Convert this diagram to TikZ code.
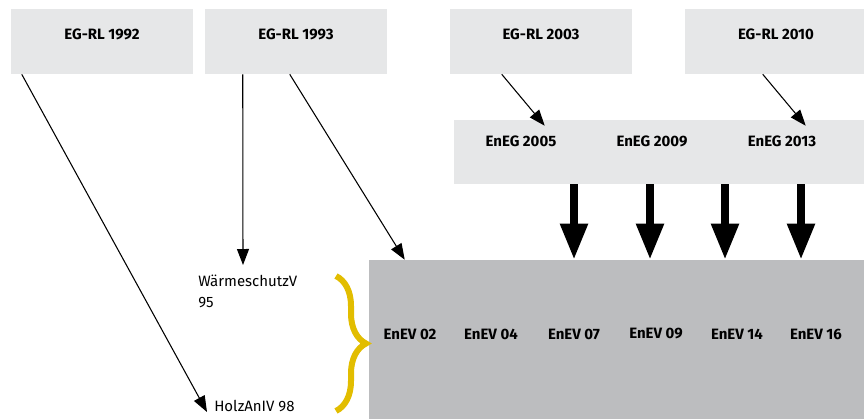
\documentclass[tikz,border=0pt]{standalone}
\usepackage{fontspec}
\setmainfont{Fira Sans}
\usetikzlibrary{arrows.meta,positioning,calc,decorations.pathreplacing}
\definecolor{boxlight}{HTML}{E6E7E8}
\definecolor{boxdark}{HTML}{BCBDBF}
\definecolor{braceyellow}{HTML}{E2BD00}
\newcommand{\txtsize}{\fontsize{11.25}{15.75}\selectfont}

\begin{document}
\begin{tikzpicture}[x=0.75pt,y=-0.75pt,
    rlbox/.style={fill=boxlight,minimum width=136.5pt,minimum height=48.75pt,
      inner sep=0pt,text height=7.75pt,text depth=11.25pt,font=\txtsize\bfseries},
    yeartext/.style={inner sep=0pt,font=\txtsize\bfseries},
    plaintext/.style={inner sep=0pt,font=\txtsize,align=left},
    thinarrow/.style={-{Triangle[length=12pt,width=9pt]},line width=0.8pt},
    fatarrow/.style={-{Triangle[length=27pt,width=19.5pt]},line width=6pt}]

  \useasboundingbox (0,0) rectangle (864,418);

  % ---- Directives (top row) ---------------------------------
  \node[rlbox] (rl92) at (102,41.5) {EG-RL 1992};
  \node[rlbox] (rl93) at (296,41.5) {EG-RL 1993};
  \node[rlbox] (rl03) at (541,41.5) {EG-RL 2003};
  \node[rlbox] (rl10) at (776,41.5) {EG-RL 2010};

  % ---- EnEG band --------------------------------------------
  \node[fill=boxlight,minimum width=309pt,minimum height=48pt,inner sep=0pt]
    (eneg) at (660,152) {};
  \node[yeartext] (eg05) at (521,141) {EnEG 2005};
  \node[yeartext] (eg09) at (652,141) {EnEG 2009};
  \node[yeartext] (eg13) at (782,141) {EnEG 2013};

  % ---- EnEV block -------------------------------------------
  \node[fill=boxdark,minimum width=372.75pt,minimum height=120pt,inner sep=0pt]
    (enev) at (617.5,340) {};
  \node[yeartext] (ev02) at (410,334) {EnEV 02};
  \node[yeartext] (ev04) at (491,334) {EnEV 04};
  \node[yeartext] (ev07) at (574,334) {EnEV 07};
  \node[yeartext] (ev09) at (656,334) {EnEV 09};
  \node[yeartext] (ev14) at (737,334) {EnEV 14};
  \node[yeartext] (ev16) at (816,334) {EnEV 16};

  % ---- Older ordinances -------------------------------------
  \node[plaintext,anchor=north west] (waerme) at (198,275) {WärmeschutzV\\95};
  \node[plaintext,anchor=west] (holz) at (214,406) {HolzAnIV 98};

  % Brace
  \draw[braceyellow,line width=4.5pt,decorate,
    decoration={brace,amplitude=22.5pt}] (336,276) -- (336,411);

  % ---- Thin arrows ------------------------------------------
  \draw[thinarrow] ($(rl92.south west)+(11,0)$) -- ($(holz.west)+(-7,6)$);
  \draw[thinarrow] ($(rl93.south west)+(38,0)$) -- ($(waerme.north west)+(45,-10)$);
  \draw[thinarrow] ($(rl93.south west)+(85,0)$) -- ($(enev.north west)+(36,0)$);
  \draw[thinarrow] ($(rl03.south west)+(52,0)$) -- ($(eneg.north west)+(91,6)$);
  \draw[thinarrow] ($(rl10.south west)+(78,0)$) -- ($(eneg.north west)+(352,6)$);

  % ---- Thick arrows -----------------------------------------
  \draw[fatarrow] (574,0 |- eneg.south) -- (574,0 |- enev.north);
  \draw[fatarrow] (650,0 |- eneg.south) -- (650,0 |- enev.north);
  \draw[fatarrow] (725,0 |- eneg.south) -- (725,0 |- enev.north);
  \draw[fatarrow] (801,0 |- eneg.south) -- (801,0 |- enev.north);

\end{tikzpicture}
\end{document}
